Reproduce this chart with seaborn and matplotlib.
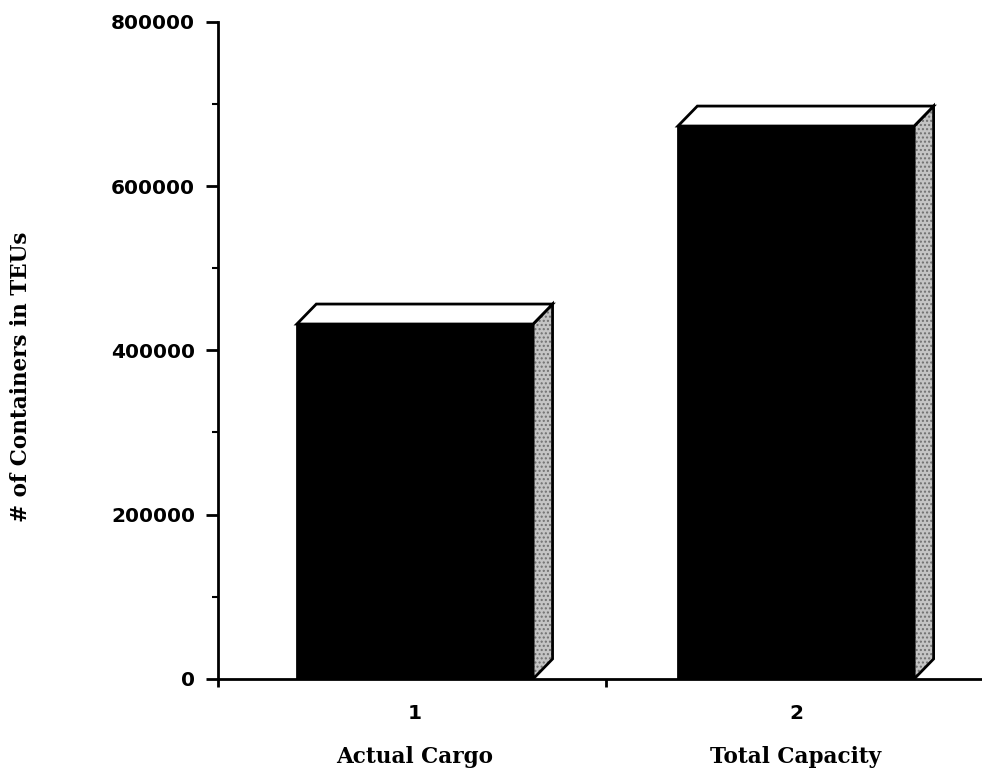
import matplotlib
matplotlib.use("Agg")
import matplotlib.pyplot as plt
import matplotlib.transforms as mtransforms
from matplotlib.patches import Polygon
from matplotlib.ticker import MultipleLocator, FixedLocator
import seaborn as sns
import pandas as pd

# Chart data
tick_numbers = ["1", "2"]
categories = ["Actual Cargo", "Total Capacity"]
teus = [432000, 673000]
y_ticks = [0, 200000, 400000, 600000, 800000]

sns.set_theme(style="white")
plt.rcParams["font.family"] = ["DejaVu Sans"]

df = pd.DataFrame({"num": tick_numbers, "teus": teus})

fig = plt.figure(figsize=(9.82, 7.75), dpi=100)
fig.patch.set_facecolor("white")
ax = fig.add_axes([0.222, 0.124, 0.778, 0.848])
ax.set_facecolor("white")

sns.barplot(data=df, x="num", y="teus", color="black", width=0.62,
            saturation=1, edgecolor="black", linewidth=2, ax=ax)

x_left, x_right = -0.517, 1.488
ax.set_xlim(x_left, x_right)
ax.set_ylim(0, 800000)

# Pseudo-3D depth for the boxes (top face and shaded side face)
dx = 0.051
dy = 24300
for bar in list(ax.patches):
    x0 = bar.get_x()
    w = bar.get_width()
    h = bar.get_height()
    side = [(x0 + w, 0), (x0 + w, h), (x0 + w + dx, h + dy), (x0 + w + dx, dy)]
    top = [(x0, h), (x0 + dx, h + dy), (x0 + w + dx, h + dy), (x0 + w, h)]
    ax.add_patch(Polygon(side, closed=True, facecolor="#c4c4c4",
                         edgecolor="#707070", hatch="....", linewidth=0, zorder=3))
    ax.add_patch(Polygon(side, closed=True, facecolor="none",
                         edgecolor="black", linewidth=2, zorder=4))
    ax.add_patch(Polygon(top, closed=True, facecolor="white",
                         edgecolor="black", linewidth=2, zorder=4))

# Axes styling
for s in ["top", "right"]:
    ax.spines[s].set_visible(False)
for s in ["left", "bottom"]:
    ax.spines[s].set_color("black")
    ax.spines[s].set_linewidth(2)

ax.set_yticks(y_ticks)
ax.set_yticklabels([str(v) for v in y_ticks])
ax.yaxis.set_minor_locator(MultipleLocator(100000))
ax.tick_params(axis="y", which="major", direction="out", length=8.5, width=2,
               color="black", labelsize=14.5, pad=8, left=True)
ax.tick_params(axis="y", which="minor", direction="out", length=4, width=1.5,
               color="black", left=True)

ax.set_xticks(range(len(tick_numbers)))
ax.set_xticklabels(tick_numbers)
ax.xaxis.set_minor_locator(FixedLocator([x_left, 0.5]))
ax.tick_params(axis="x", which="major", length=0, labelsize=14.5, pad=18)
ax.tick_params(axis="x", which="minor", direction="out", length=6, width=2,
               color="black", bottom=True)

for lab in ax.get_xticklabels() + ax.get_yticklabels():
    lab.set_fontweight("bold")
    lab.set_color("black")

# Category names under the numbered ticks
trans = mtransforms.blended_transform_factory(ax.transData, ax.transAxes)
for i, name in enumerate(categories):
    ax.text(i, -0.119, name, transform=trans, ha="center", va="center",
            family="DejaVu Serif", fontweight="bold", fontsize=15.5, color="black")

ax.set_xlabel("")
ax.set_ylabel("# of Containers in TEUs", family="DejaVu Serif",
              fontweight="bold", fontsize=15.5, color="black")
ax.yaxis.set_label_coords(-0.243, 0.46)

fig.savefig("out.png", dpi=100, facecolor="white")
